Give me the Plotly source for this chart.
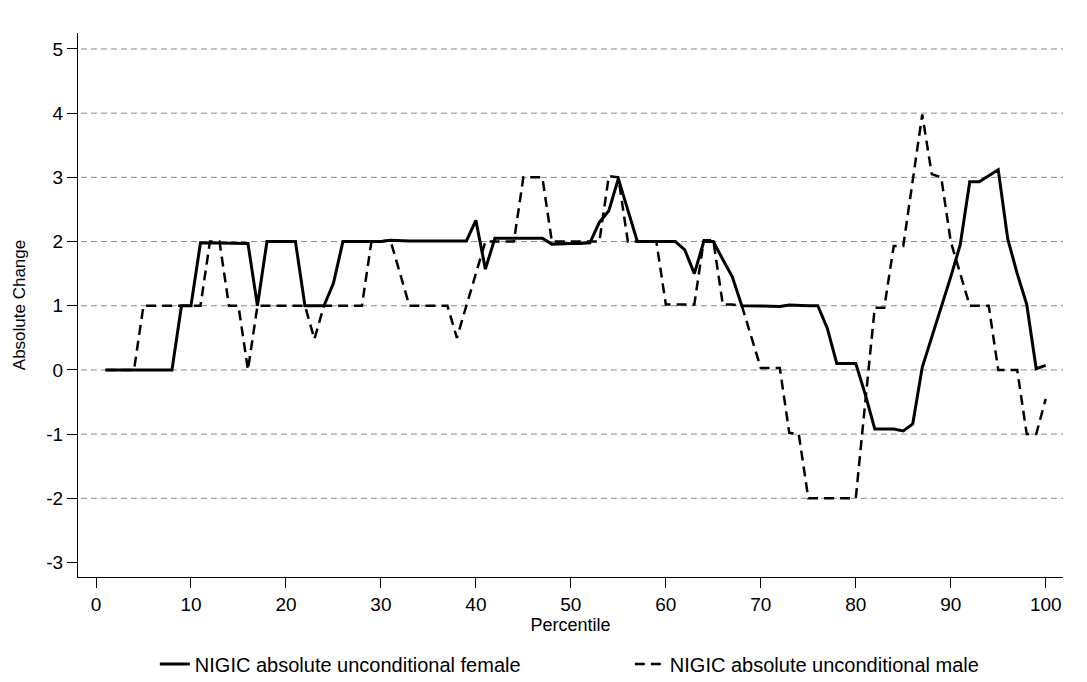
import plotly.graph_objects as go

percentile = list(range(1, 101))

female = [0, 0, 0, 0, 0, 0, 0, 0, 1, 1,
          1.98, 1.98, 1.98, 1.98, 1.97, 1.97, 1, 2, 2, 2,
          2, 1, 1, 1, 1.35, 2, 2, 2, 2, 2,
          2.02, 2.01, 2.01, 2.01, 2.01, 2.01, 2.01, 2.01, 2.01, 2.33,
          1.57, 2.05, 2.05, 2.05, 2.05, 2.05, 2.05, 1.96, 1.97, 1.97,
          1.97, 1.98, 2.3, 2.48, 2.98, 2.5, 2.0, 2.0, 2.0, 2.0,
          2.0, 1.87, 1.5, 2.0, 2.0, 1.72, 1.45, 1.0, 1.0, 0.99,
          0.99, 0.99, 1.01, 1.0, 1.0, 1.0, 0.65, 0.1, 0.1, 0.1,
          -0.38, -0.92, -0.92, -0.92, -0.95, -0.84, 0.04, 0.5, 0.98, 1.45,
          1.95, 2.93, 2.93, 3.03, 3.12, 2.04, 1.5, 1.02, 0.02, 0.07]

male = [0, 0, 0, 0, 1, 1, 1, 1, 1, 1,
        1, 2, 2, 1, 1, 0, 1, 1, 1, 1,
        1, 1, 0.48, 1, 1, 1, 1, 1, 2, 2,
        2.02, 1.49, 1, 1, 1, 1, 1, 0.5, 1.0, 1.5,
        2.0, 2.0, 2.0, 2.0, 3, 3, 3, 2, 2, 2,
        2, 2, 2, 3.02, 3.0, 2, 2, 2, 2, 1.02,
        1.02, 1.02, 1.02, 2.02, 2.02, 1.02, 1.02, 1.0, 0.5, 0.03,
        0.03, 0.03, -0.98, -1.0, -2, -2, -2, -2, -2, -2,
        -0.5, 0.97, 0.97, 1.93, 1.93, 2.97, 3.98, 3.05, 3.0, 2.0,
        1.5, 1.0, 1.0, 1.0, 0.0, 0.0, 0.0, -1.0, -1.0, -0.45]

x_ticks = [0, 10, 20, 30, 40, 50, 60, 70, 80, 90, 100]
y_ticks = [-3, -2, -1, 0, 1, 2, 3, 4, 5]
y_tick_text = ["-3", "-2", "-1", "0", "1", "2", "3", "4", "5"]
grid_vals = [-2, -1, 0, 1, 2, 3, 4, 5]

FONT = "Liberation Sans, Arial, sans-serif"

fig = go.Figure()
fig.add_trace(go.Scatter(x=percentile, y=female, mode="lines",
                         name="NIGIC absolute unconditional female",
                         line=dict(color="black", width=3)))
fig.add_trace(go.Scatter(x=percentile, y=male, mode="lines",
                         name="NIGIC absolute unconditional male",
                         line=dict(color="black", width=2.5, dash="10px,6px")))

shapes = []
for g in grid_vals:
    shapes.append(dict(type="line", xref="paper", yref="y", x0=0.003, x1=1, y0=g, y1=g,
                       line=dict(color="#8a8a8a", width=1, dash="6px,4px"), layer="below"))

fig.update_layout(
    width=1087, height=682,
    margin=dict(l=78, r=24, t=33, b=105, autoexpand=False),
    paper_bgcolor="white", plot_bgcolor="white",
    font=dict(family=FONT, size=17, color="black"),
    shapes=shapes,
    showlegend=True,
    legend=dict(orientation="h", x=0.078, xanchor="left", y=-0.16, yanchor="middle",
                entrywidth=430, entrywidthmode="pixels",
                font=dict(family=FONT, size=20, color="black"),
                bgcolor="rgba(0,0,0,0)"),
    xaxis=dict(range=[-1.895, 101.82], tickmode="array", tickvals=x_ticks,
               showgrid=False, zeroline=False, showline=True, linecolor="black", linewidth=1,
               ticks="outside", ticklen=10, tickcolor="black", tickwidth=1,
               tickfont=dict(family=FONT, size=19),
               title=dict(text="Percentile", font=dict(family=FONT, size=18), standoff=0)),
    yaxis=dict(range=[-3.226, 5.249], tickmode="array", tickvals=y_ticks, ticktext=y_tick_text,
               showgrid=False, zeroline=False, showline=True, linecolor="black", linewidth=1,
               ticks="outside", ticklen=10, tickcolor="black", tickwidth=1,
               tickfont=dict(family=FONT, size=19),
               title=dict(text="Absolute Change", font=dict(family=FONT, size=17), standoff=16)),
)

fig.write_html("out.html")
